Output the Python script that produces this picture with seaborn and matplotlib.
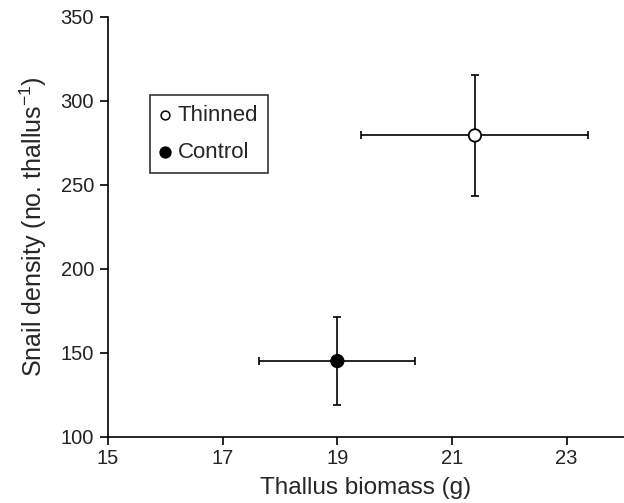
import matplotlib
matplotlib.use('Agg')
import matplotlib.pyplot as plt
import seaborn as sns
import pandas as pd

# Treatment means with error bars
treatments = ['Thinned', 'Control']
biomass = [21.4, 19.0]
biomass_err = [1.98, 1.36]
snails = [279.5, 145.2]
snails_err = [36.0, 26.0]

x_ticks = [15, 17, 19, 21, 23]
y_ticks = [100, 150, 200, 250, 300, 350]

df = pd.DataFrame({'treatment': treatments, 'biomass': biomass, 'snails': snails,
                   'biomass_err': biomass_err, 'snails_err': snails_err})

sns.set_style('ticks')
plt.rcParams['font.family'] = ['Liberation Sans', 'DejaVu Sans']
plt.rcParams['mathtext.fontset'] = 'custom'
plt.rcParams['mathtext.rm'] = 'Liberation Sans'

fig = plt.figure(figsize=(6.24, 5.03), dpi=100)
ax = fig.add_axes([108/624, 66/503, 516/624, 420/503])

ax.errorbar(df['biomass'], df['snails'], xerr=df['biomass_err'], yerr=df['snails_err'],
            fmt='none', ecolor='black', elinewidth=1.2, capsize=3, capthick=1.2, zorder=1)

sns.scatterplot(data=df, x='biomass', y='snails', hue='treatment',
                palette={'Thinned': 'white', 'Control': 'black'},
                edgecolor='black', linewidth=1.3, s=80, zorder=3, ax=ax, legend=False)

# legend handles
h1 = ax.scatter([], [], s=40, facecolor='white', edgecolor='black', linewidth=1.1)
h2 = ax.scatter([], [], s=60, facecolor='black', edgecolor='black', linewidth=1.1)
leg = ax.legend([h1, h2], treatments, loc='upper left', bbox_to_anchor=(0.081, 0.814),
                borderaxespad=0, fontsize=16, frameon=True, fancybox=False,
                handletextpad=0.3, handlelength=0.5, borderpad=0.45, labelspacing=0.7)
leg.get_frame().set_edgecolor('black')
leg.get_frame().set_linewidth(1.2)

ax.set_xlim(15, 24)
ax.set_ylim(100, 350)
ax.set_xticks(x_ticks)
ax.set_yticks(y_ticks)
ax.tick_params(axis='both', labelsize=14.5, length=6, width=1.2, color='black',
               labelcolor='#222222')
ax.tick_params(axis='y', pad=4)
ax.tick_params(axis='x', pad=3)
ax.set_xlabel('Thallus biomass (g)', fontsize=17.5, labelpad=6)
ax.set_ylabel('Snail density (no. thallus$^{-1}$)', fontsize=18, labelpad=8)

sns.despine(ax=ax)
for s in ['left', 'bottom']:
    ax.spines[s].set_linewidth(1.2)
    ax.spines[s].set_color('black')

fig.savefig('out.png', dpi=100)
